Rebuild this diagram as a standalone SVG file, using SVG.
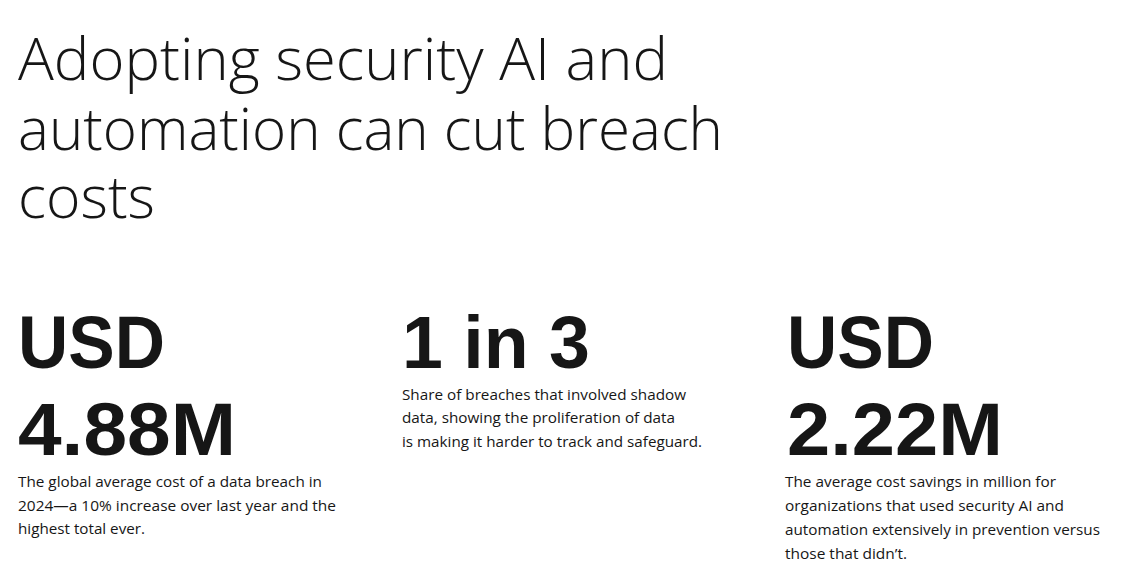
<svg xmlns="http://www.w3.org/2000/svg" width="1127" height="586" viewBox="0 0 1127 586">
<style>
.t{font-family:"Open Sans","Liberation Sans",sans-serif;font-weight:300;font-size:58px;fill:#161616}
.n{font-family:"Liberation Sans",Arial,sans-serif;font-weight:bold;font-size:74px;fill:#161616}
.b{font-family:"Open Sans","Liberation Sans",sans-serif;font-size:15px;fill:#161616}
</style>
<rect width="1127" height="586" fill="#fff"/>
<g id="title">
<text class="t" x="18" y="80" textLength="650" lengthAdjust="spacingAndGlyphs">Adopting security AI and</text>
<text class="t" x="18" y="150" textLength="705" lengthAdjust="spacingAndGlyphs">automation can cut breach</text>
<text class="t" x="18" y="218" textLength="137" lengthAdjust="spacingAndGlyphs">costs</text>
</g>
<g id="stat1">
<text class="n" x="18" y="368" textLength="147" lengthAdjust="spacingAndGlyphs">USD</text>
<text class="n" x="18" y="455" textLength="218" lengthAdjust="spacingAndGlyphs">4.88M</text>
<text class="b" x="18" y="487" textLength="304" lengthAdjust="spacingAndGlyphs">The global average cost of a data breach in</text>
<text class="b" x="18" y="511" textLength="318" lengthAdjust="spacingAndGlyphs">2024—a 10% increase over last year and the</text>
<text class="b" x="18" y="534" textLength="127" lengthAdjust="spacingAndGlyphs">highest total ever.</text>
</g>
<g id="stat2">
<text class="n" x="402" y="368" textLength="188" lengthAdjust="spacingAndGlyphs">1 in 3</text>
<text class="b" x="402" y="400" textLength="284" lengthAdjust="spacingAndGlyphs">Share of breaches that involved shadow</text>
<text class="b" x="402" y="423" textLength="273" lengthAdjust="spacingAndGlyphs">data, showing the proliferation of data</text>
<text class="b" x="402" y="447" textLength="300" lengthAdjust="spacingAndGlyphs">is making it harder to track and safeguard.</text>
</g>
<g id="stat3">
<text class="n" x="787" y="368" textLength="147" lengthAdjust="spacingAndGlyphs">USD</text>
<text class="n" x="787" y="455" textLength="216" lengthAdjust="spacingAndGlyphs">2.22M</text>
<text class="b" x="785" y="487" textLength="271" lengthAdjust="spacingAndGlyphs">The average cost savings in million for</text>
<text class="b" x="785" y="511" textLength="279" lengthAdjust="spacingAndGlyphs">organizations that used security AI and</text>
<text class="b" x="785" y="535" textLength="315" lengthAdjust="spacingAndGlyphs">automation extensively in prevention versus</text>
<text class="b" x="785" y="559" textLength="122" lengthAdjust="spacingAndGlyphs">those that didn’t.</text>
</g>
</svg>
